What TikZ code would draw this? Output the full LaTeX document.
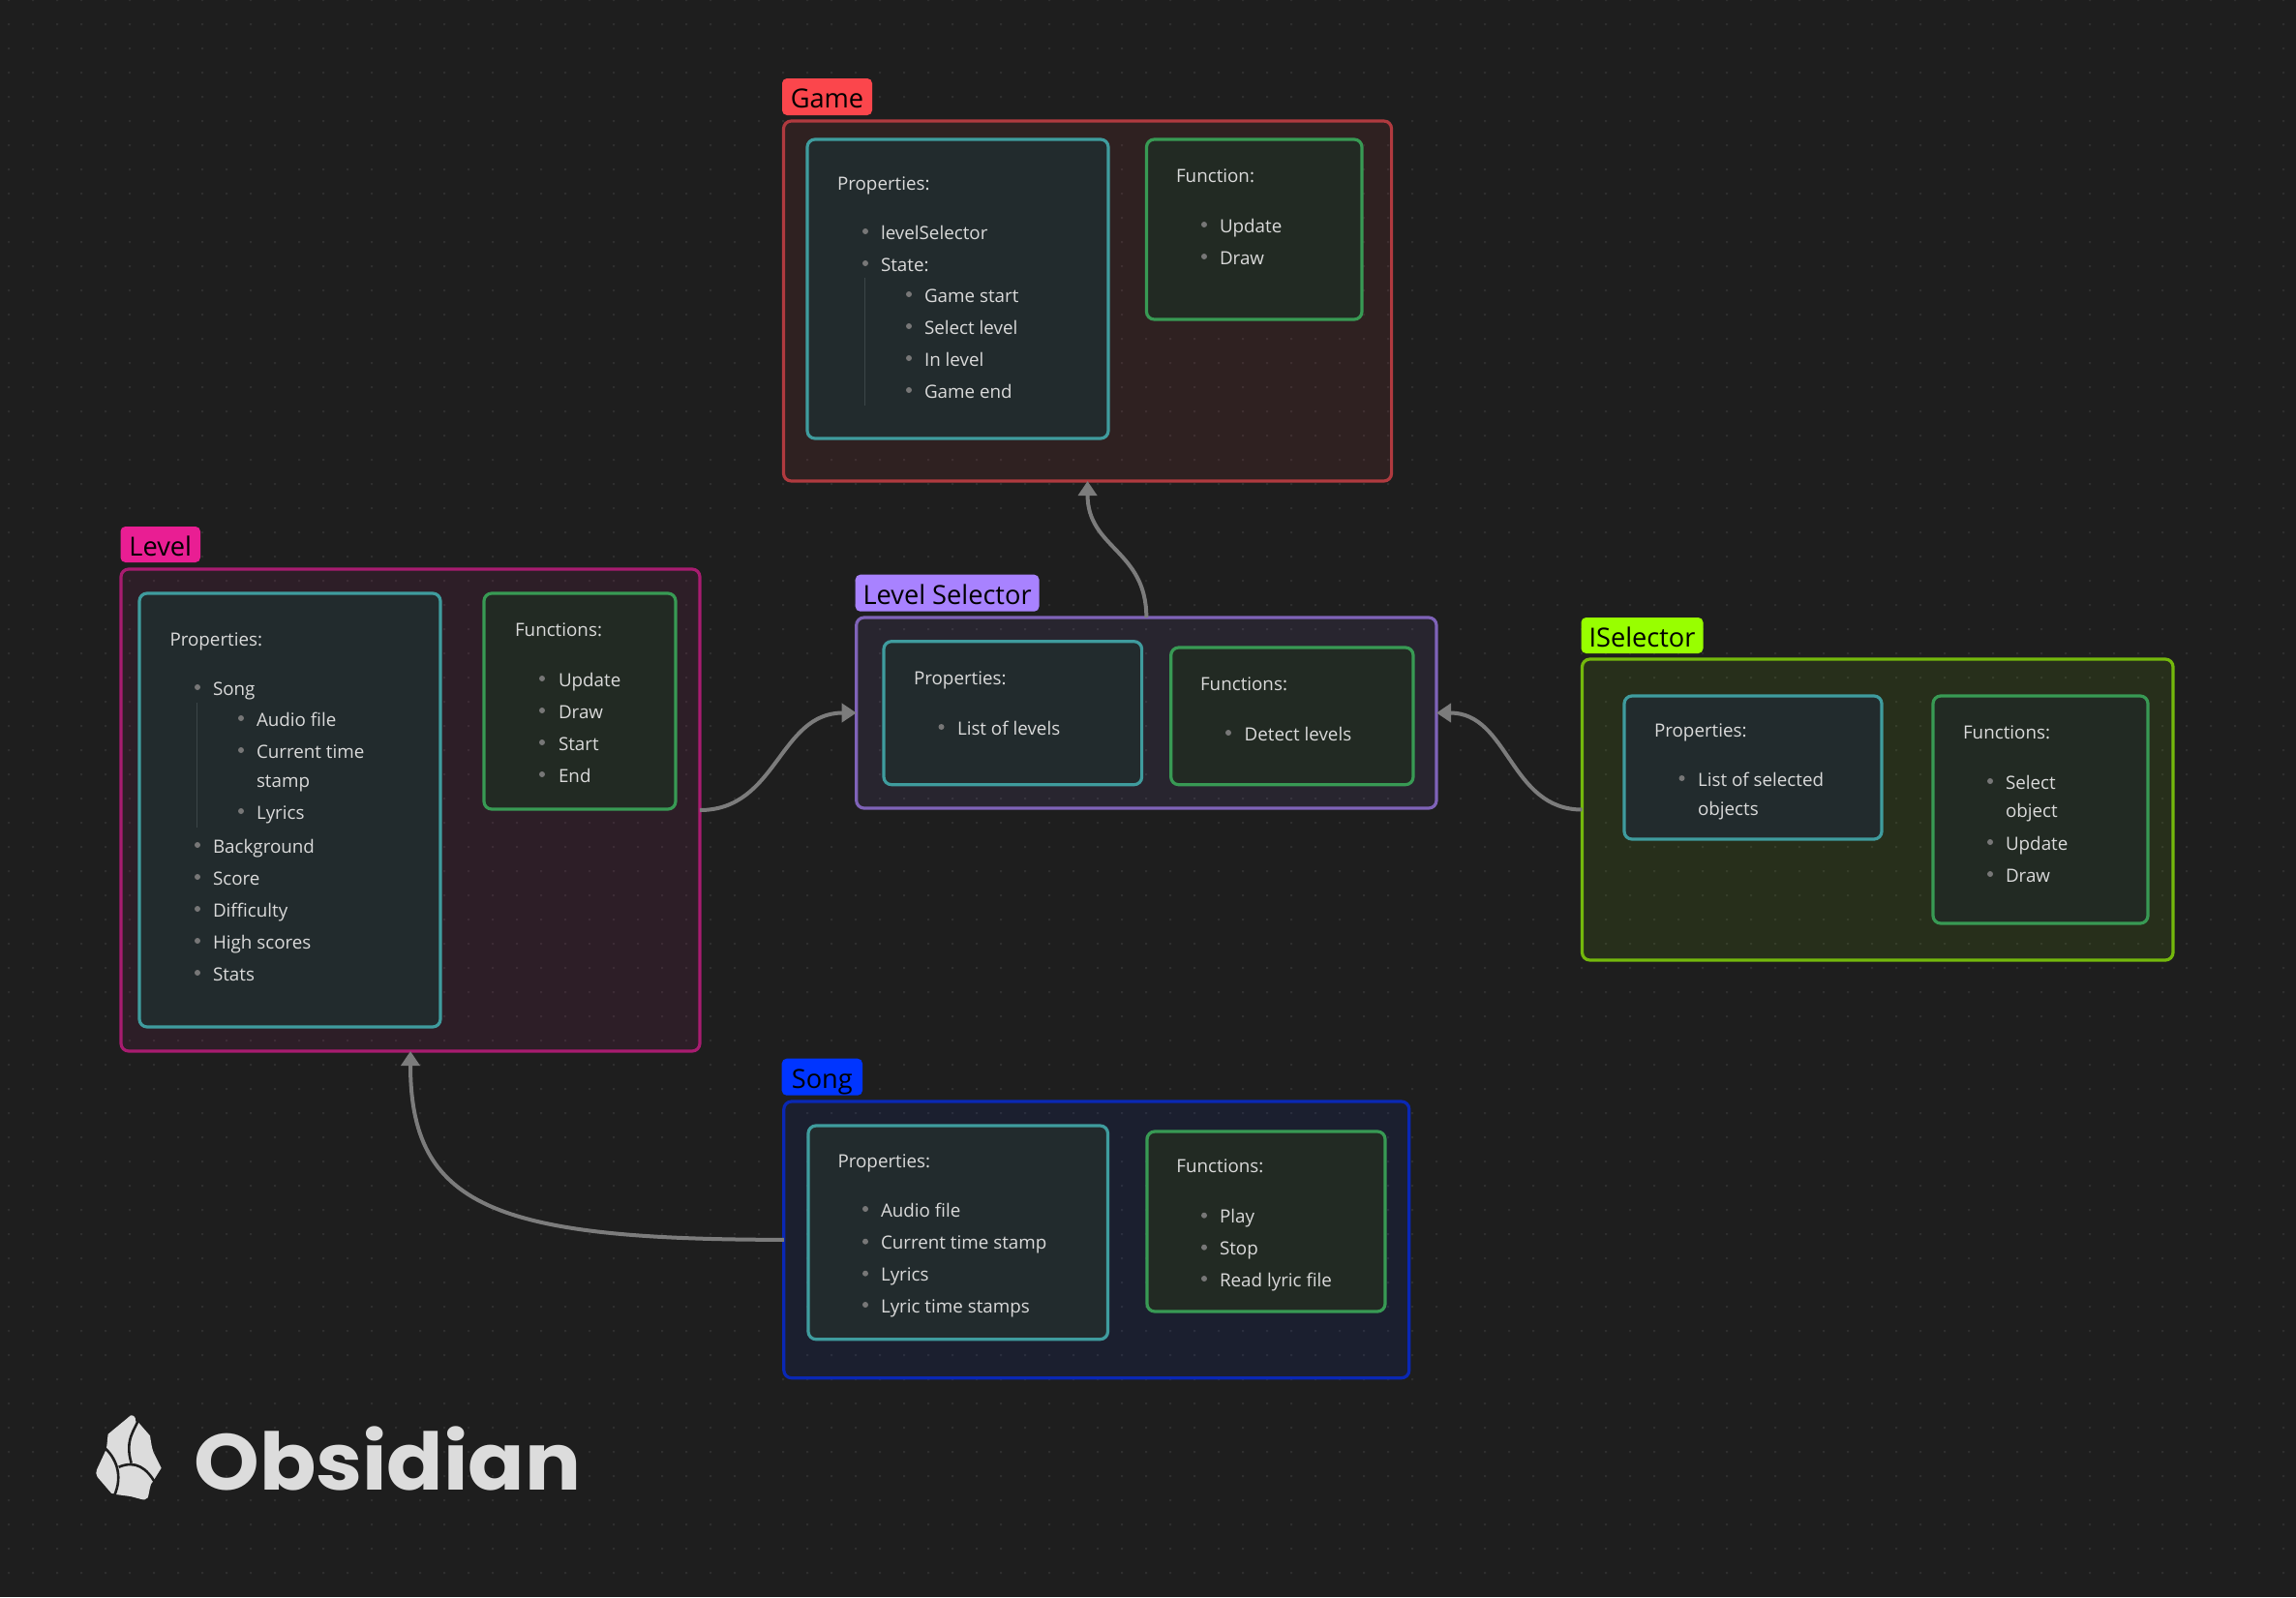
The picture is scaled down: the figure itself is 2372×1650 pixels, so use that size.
\documentclass[tikz,border=0pt]{standalone}
\usepackage{fontspec}
\setmainfont{Open Sans}
\newfontfamily\obsfont{Poppins}
\usetikzlibrary{arrows.meta}
\definecolor{bgc}{HTML}{1E1E1E}
\definecolor{dotc}{HTML}{2E2E2E}
\definecolor{txtc}{HTML}{DADADA}
\definecolor{bulc}{HTML}{777777}
\definecolor{barc}{HTML}{3C4648}
\definecolor{arrc}{HTML}{7C7C7C}
\definecolor{tealb}{HTML}{3F9C9E}
\definecolor{tealf}{HTML}{222B2D}
\definecolor{greenb}{HTML}{389A54}
\definecolor{greenf}{HTML}{222A23}
\definecolor{gameL}{HTML}{FB464C}\definecolor{gameB}{HTML}{B03A3F}
\definecolor{levelL}{HTML}{E91E93}\definecolor{levelB}{HTML}{A81C70}
\definecolor{lsL}{HTML}{A882FF}\definecolor{lsB}{HTML}{7F63B8}
\definecolor{isL}{HTML}{98FF00}\definecolor{isB}{HTML}{74B80C}
\definecolor{songL}{HTML}{0035FF}\definecolor{songB}{HTML}{0A28B5}
\definecolor{logoc}{HTML}{DCDCDC}
\newcount\tcnt
\tikzset{
  sized/.style={rectangle,inner sep=0pt,outer sep=0pt,rounded corners=4pt,line width=1.6pt},
  grp/.style={sized,draw=#1B,fill=#1L,fill opacity=.08},
  teal card/.style={sized,draw=tealb,fill=tealf},
  green card/.style={sized,draw=greenb,fill=greenf},
  tagbox/.style={sized,draw=none,fill=#1L,rounded corners=2.5pt,text=black,
    font=\fontsize{13.6}{18}\selectfont,text height=13.25pt,text depth=1.75pt},
  txt/.style={anchor=base west,inner sep=0pt,outer sep=0pt,text=txtc,font=\fontsize{9.4}{12}\selectfont},
  link/.style={draw=arrc,line width=2pt,-{Triangle[length=7.5pt,width=9.5pt]}},
  blt/.style={fill=bulc},
  guide/.style={draw=barc,line width=.5pt}
}
% style, name, x1, y1, x2, y2 (pixels), text
\newcommand\boxnode[7]{\node[#1,minimum width={(#5-#3)*.5pt},minimum height={(#6-#4)*.5pt}] (#2) at ({(#3+#5)/2},{(#4+#6)/2}) {#7};}
\newcommand\tx[3]{\global\advance\tcnt by 1 \node[txt] (t\the\tcnt) at (#1,#2+7) {#3};}
\newcommand\itm[4]{\fill[blt] (#1,#3-1) circle (1.5pt); \tx{#2}{#3}{#4}}
\begin{document}
\begin{tikzpicture}[x=.5pt,y=-.5pt]
\useasboundingbox (0,0) rectangle (2372,1650);
\fill[bgc] (0,0) rectangle (2372,1650);
\fill[dotc] foreach \i in {0,...,94} { foreach \j in {0,...,65} { ({8+25*\i},{-1+25*\j}) rectangle +(2,2) } };

% groups
\boxnode{grp=game}{Game}{809.5}{125}{1437.6}{497}{}
\boxnode{grp=level}{Level}{125}{588}{723}{1086}{}
\boxnode{grp=ls}{LS}{884.7}{638}{1484}{835}{}
\boxnode{grp=is}{ISel}{1634.5}{681}{2245}{992}{}
\boxnode{grp=song}{Song}{809.8}{1138}{1455.8}{1423.7}{}

% group tags
\boxnode{tagbox=game}{GameTag}{808}{81}{901}{119}{Game}
\boxnode{tagbox=level}{LevelTag}{124.5}{544}{207}{581}{Level}
\boxnode{tagbox=ls}{LSTag}{883.7}{593.7}{1073.5}{631.7}{Level Selector}
\boxnode{tagbox=is}{ISelTag}{1633.5}{638}{1759.5}{675}{ISelector}
\boxnode{tagbox=song}{SongTag}{807.7}{1093.7}{891}{1131.7}{Song}

% cards
\boxnode{teal card}{GameP}{834}{144}{1145}{453}{}
\boxnode{green card}{GameF}{1184.5}{144}{1407}{330}{}
\boxnode{teal card}{LevelP}{144}{613}{455}{1061}{}
\boxnode{green card}{LevelF}{500}{613}{698}{836}{}
\boxnode{teal card}{LSP}{913}{662.7}{1179.6}{810.7}{}
\boxnode{green card}{LSF}{1209.7}{669}{1460}{810.7}{}
\boxnode{teal card}{ISelP}{1678}{719}{1944}{867}{}
\boxnode{green card}{ISelF}{1997}{719}{2219}{954}{}
\boxnode{teal card}{SongP}{835}{1163}{1144.5}{1383.7}{}
\boxnode{green card}{SongF}{1185}{1169}{1431}{1355}{}

% Game text
\tx{865}{189}{Properties:}
\itm{894}{910}{240}{levelSelector}
\itm{894}{910}{273}{State:}
\draw[guide] (893,287) -- (893,419);
\itm{939}{955}{305}{Game start}
\itm{939}{955}{338}{Select level}
\itm{939}{955}{371}{In level}
\itm{939}{955}{404}{Game end}
\tx{1215}{181}{Function:}
\itm{1244}{1260}{233}{Update}
\itm{1244}{1260}{266}{Draw}

% Level text
\tx{175.5}{660}{Properties:}
\itm{204}{220}{711}{Song}
\draw[guide] (203,726) -- (203,855);
\itm{249}{265}{743}{Audio file}
\itm{249}{265}{776}{Current time}
\tx{265}{806}{stamp}
\itm{249}{265}{839}{Lyrics}
\itm{204}{220}{874}{Background}
\itm{204}{220}{907}{Score}
\itm{204}{220}{940}{Difficulty}
\itm{204}{220}{973}{High scores}
\itm{204}{220}{1006}{Stats}
\tx{532}{650}{Functions:}
\itm{560}{577}{702}{Update}
\itm{560}{577}{735}{Draw}
\itm{560}{577}{768}{Start}
\itm{560}{577}{801}{End}

% Level Selector text
\tx{944}{700}{Properties:}
\itm{972.5}{989}{752}{List of levels}
\tx{1240}{706.7}{Functions:}
\itm{1269}{1285.7}{758}{Detect levels}

% ISelector text
\tx{1709}{754}{Properties:}
\itm{1737.5}{1754}{805}{List of selected}
\tx{1754}{835}{objects}
\tx{2028}{756}{Functions:}
\itm{2056}{2072}{808}{Select}
\tx{2072}{837}{object}
\itm{2056}{2072}{871}{Update}
\itm{2056}{2072}{904}{Draw}

% Song text
\tx{865.5}{1199}{Properties:}
\itm{894}{910}{1250}{Audio file}
\itm{894}{910}{1283.7}{Current time stamp}
\itm{894}{910}{1316.7}{Lyrics}
\itm{894}{910}{1349}{Lyric time stamps}
\tx{1215.4}{1204.7}{Functions:}
\itm{1244}{1260}{1256.7}{Play}
\itm{1244}{1260}{1289.7}{Stop}
\itm{1244}{1260}{1322}{Read lyric file}

% connectors
\draw[link] (LS.north) .. controls +(0,-70) and +(0,70) .. (Game.south);
\draw[link] (Level.east) .. controls +(80,0) and +(-80,0) .. (LS.west);
\draw[link] (ISel.west) .. controls +(-75,0) and +(75,0) .. (LS.east);
\draw[link] (Song.west) .. controls +(-300,0) and +(0,160) .. (Level.south);

% Obsidian logo
\begin{scope}[shift={(90,1450)},x=.1667pt,y=-.1667pt]
\fill[logoc] (135,37) .. controls (145,35) and (152,45) .. (150,55)
  -- (160,60) -- (195,100) .. controls (198,120) and (200,135) .. (205,150)
  -- (230,200) -- (205,240) -- (198,250) .. controls (193,265) and (192,280) .. (188,292)
  .. controls (183,299) and (175,299) .. (165,296) -- (135,288) -- (90,282) -- (75,278)
  -- (32,228) .. controls (27,220) and (27,212) .. (30,205) -- (58,145)
  .. controls (63,130) and (62,110) .. (65,95) -- cycle;
\draw[bgc,line width=1.3pt] (158,52) .. controls (150,80) and (115,110) .. (137,185);
\draw[bgc,line width=1.3pt] (55,138) .. controls (85,165) and (115,220) .. (83,288);
\draw[bgc,line width=1.3pt] (98,197) .. controls (150,175) and (185,200) .. (212,248);
\end{scope}
\node[anchor=base west,inner sep=0pt,text=logoc,font=\obsfont\bfseries\fontsize{41}{50}\selectfont] (Wordmark) at (200,1539) {\scalebox{1.05}[1]{Obsidian}};
\end{tikzpicture}
\end{document}
